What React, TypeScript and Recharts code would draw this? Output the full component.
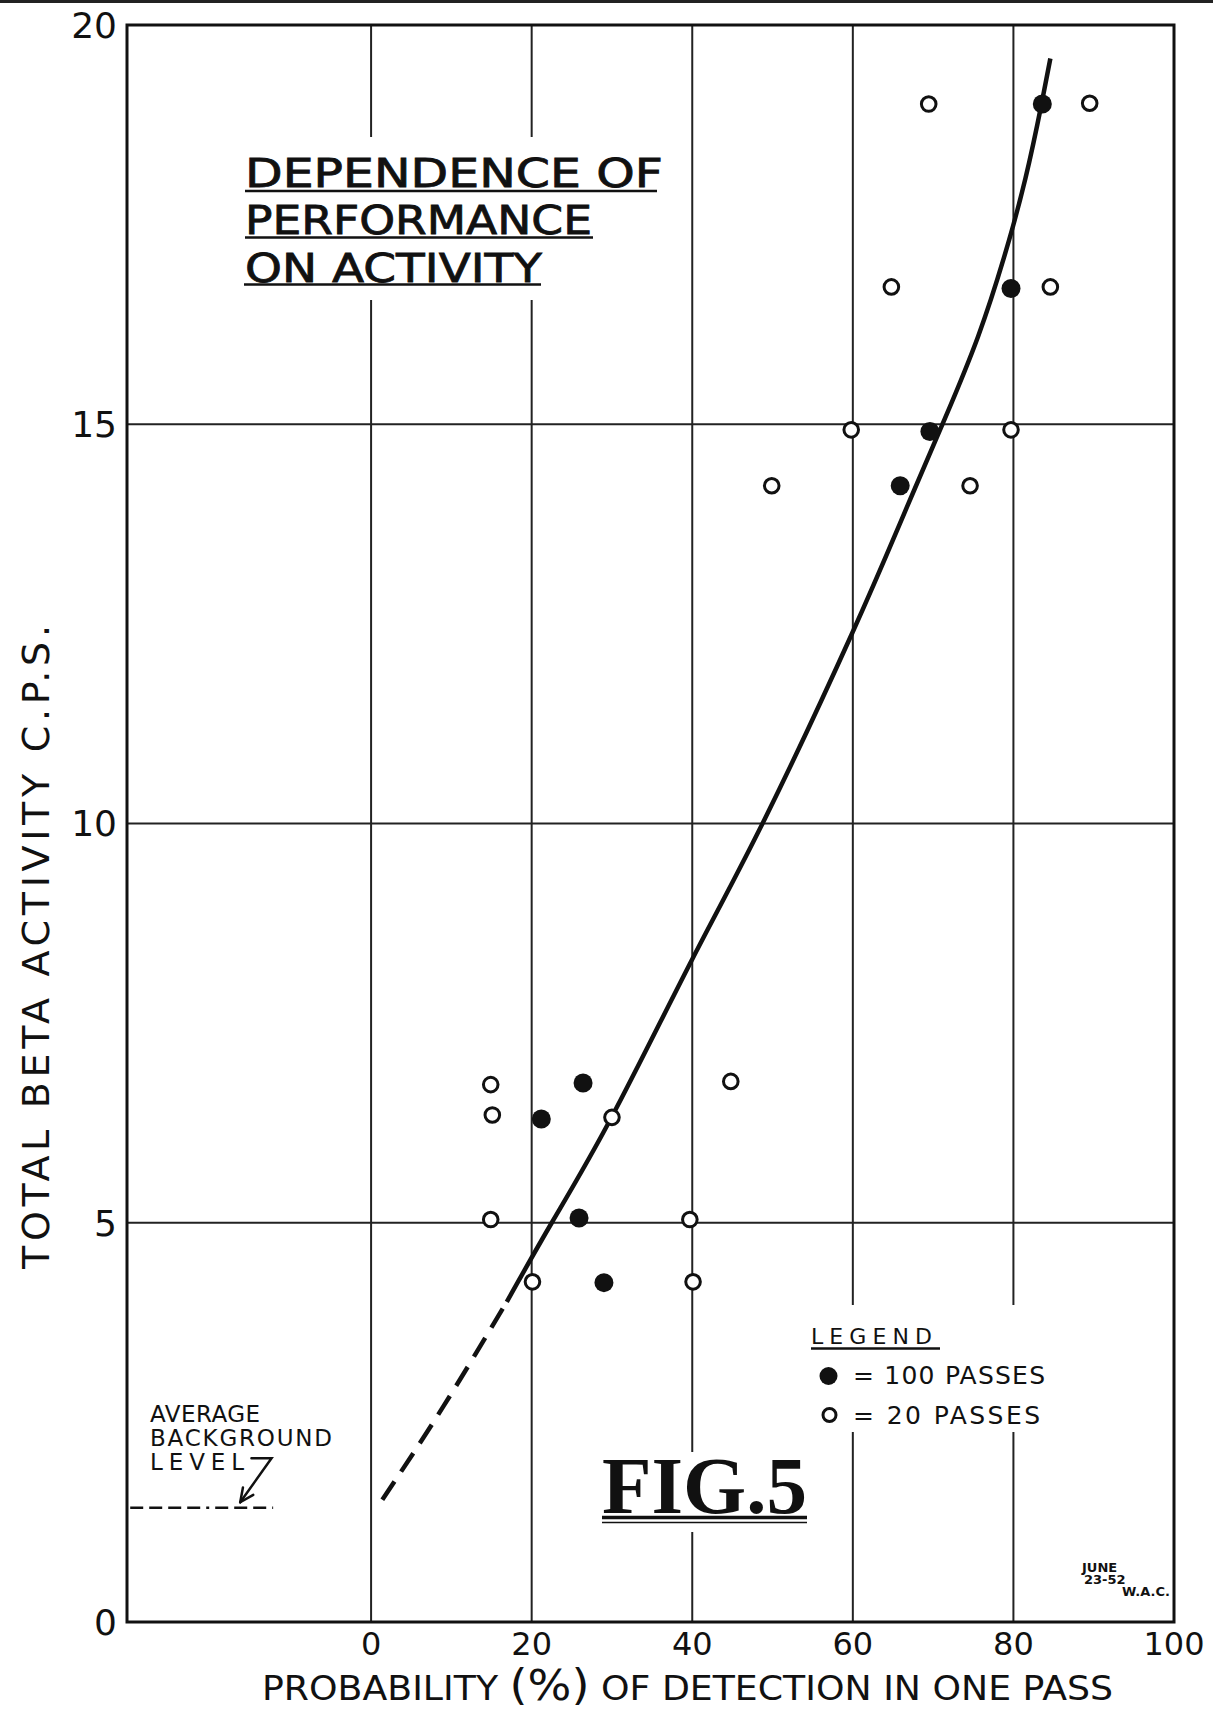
import React from 'react';
import { ComposedChart, Line, Scatter, XAxis, YAxis, CartesianGrid } from 'recharts';

const W = 1213;
const H = 1710;
const PLOT = { left: 127, top: 25, right: 1174, bottom: 1622 };
const X_DOMAIN: [number, number] = [-30.4, 100];
const Y_DOMAIN: [number, number] = [0, 20];
const xTicks = [0, 20, 40, 60, 80, 100];
const yTicks = [0, 5, 10, 15, 20];

// ● = 100 passes
const passes100 = [
  { x: 83.6, y: 19.01 },
  { x: 79.7, y: 16.7 },
  { x: 69.6, y: 14.91 },
  { x: 65.9, y: 14.23 },
  { x: 21.2, y: 6.3 },
  { x: 26.4, y: 6.75 },
  { x: 25.9, y: 5.06 },
  { x: 29.0, y: 4.25 },
];

// ○ = 20 passes
const passes20 = [
  { x: 69.45, y: 19.01 },
  { x: 89.5, y: 19.02 },
  { x: 64.8, y: 16.72 },
  { x: 84.6, y: 16.72 },
  { x: 59.8, y: 14.93 },
  { x: 79.7, y: 14.93 },
  { x: 49.9, y: 14.23 },
  { x: 74.6, y: 14.23 },
  { x: 14.9, y: 6.73 },
  { x: 44.8, y: 6.77 },
  { x: 15.1, y: 6.35 },
  { x: 30.0, y: 6.32 },
  { x: 14.9, y: 5.04 },
  { x: 39.7, y: 5.04 },
  { x: 20.1, y: 4.26 },
  { x: 40.1, y: 4.26 },
];

// fitted curve (solid part)
const fitSolid = [
  { x: 16.9, y: 4.01 },
  { x: 22.5, y: 5.0 },
  { x: 30.0, y: 6.33 },
  { x: 40.0, y: 8.3 },
  { x: 49.0, y: 10.05 },
  { x: 59.9, y: 12.38 },
  { x: 66.3, y: 13.86 },
  { x: 71.5, y: 15.08 },
  { x: 75.6, y: 16.1 },
  { x: 78.8, y: 17.08 },
  { x: 81.5, y: 18.08 },
  { x: 83.5, y: 19.01 },
  { x: 84.6, y: 19.58 },
];

// extrapolated (dashed) part
const fitDashed = [
  { x: 1.4, y: 1.53 },
  { x: 9.0, y: 2.7 },
  { x: 16.9, y: 4.01 },
];

// average background level
const backgroundLevel = [
  { x: -30.0, y: 1.43 },
  { x: -12.2, y: 1.43 },
];

const SANS = '"DejaVu Sans", "Liberation Sans", sans-serif';
const INK = '#111';

const sx = (v: number) =>
  PLOT.left + ((v - X_DOMAIN[0]) / (X_DOMAIN[1] - X_DOMAIN[0])) * (PLOT.right - PLOT.left);
const sy = (v: number) =>
  PLOT.bottom - ((v - Y_DOMAIN[0]) / (Y_DOMAIN[1] - Y_DOMAIN[0])) * (PLOT.bottom - PLOT.top);

const OpenDot = (props: any) => {
  const { cx, cy } = props;
  if (cx == null || cy == null) return null;
  return <circle cx={cx} cy={cy} r={7.3} fill="#fff" stroke={INK} strokeWidth={3} />;
};
const FilledDot = (props: any) => {
  const { cx, cy } = props;
  if (cx == null || cy == null) return null;
  return <circle cx={cx} cy={cy} r={9.5} fill={INK} />;
};

const Overlay = () => {
  // arrow from "LEVEL" to the background line
  const hookA = { x: sx(-14.9), y: sy(2.05) };
  const hookB = { x: sx(-12.4), y: sy(2.05) };
  const tip = { x: sx(-16.3), y: sy(1.5) };
  const dx = hookB.x - tip.x;
  const dy = hookB.y - tip.y;
  const len = Math.sqrt(dx * dx + dy * dy);
  const ux = dx / len;
  const uy = dy / len;
  const ang = (25 * Math.PI) / 180;
  const bl = 15;
  const b1 = {
    x: tip.x + bl * (ux * Math.cos(ang) - uy * Math.sin(ang)),
    y: tip.y + bl * (ux * Math.sin(ang) + uy * Math.cos(ang)),
  };
  const b2 = {
    x: tip.x + bl * (ux * Math.cos(-ang) - uy * Math.sin(-ang)),
    y: tip.y + bl * (ux * Math.sin(-ang) + uy * Math.cos(-ang)),
  };

  return (
    <svg
      width={W}
      height={H}
      style={{ position: 'absolute', left: 0, top: 0, pointerEvents: 'none' }}
    >
      {/* scan edge at top */}
      <line x1={0} y1={1.5} x2={W} y2={1.5} stroke="#222" strokeWidth={3} />

      {/* gaps in grid behind lettering */}
      <rect x={236} y={137} width={436} height={163} fill="#fff" />
      <rect x={800} y={1305} width={260} height={127} fill="#fff" />
      <rect x={598} y={1452} width={214} height={80} fill="#fff" />

      {/* frame */}
      <rect
        x={PLOT.left}
        y={PLOT.top}
        width={PLOT.right - PLOT.left}
        height={PLOT.bottom - PLOT.top}
        fill="none"
        stroke={INK}
        strokeWidth={3}
      />

      {/* title */}
      <g fontFamily={SANS} fontSize={39.5} fill={INK} stroke={INK} strokeWidth={0.8}>
        <text x={245} y={187} textLength={418} lengthAdjust="spacingAndGlyphs">DEPENDENCE OF</text>
        <text x={245} y={233.5} textLength={347} lengthAdjust="spacingAndGlyphs">PERFORMANCE</text>
        <text x={245} y={281.5} textLength={297} lengthAdjust="spacingAndGlyphs">ON ACTIVITY</text>
      </g>
      <g stroke={INK} strokeWidth={2.5}>
        <line x1={245} y1={191} x2={657} y2={191} />
        <line x1={245} y1={237.5} x2={593} y2={237.5} />
        <line x1={244} y1={284.5} x2={541} y2={284.5} />
      </g>

      {/* legend */}
      <g fontFamily={SANS} fill={INK}>
        <text x={811} y={1343.5} fontSize={22} textLength={121} lengthAdjust="spacing">LEGEND</text>
        <line x1={811} y1={1348.5} x2={940} y2={1348.5} stroke={INK} strokeWidth={2.5} />
        <circle cx={828.5} cy={1376} r={9} fill={INK} />
        <text x={853} y={1384} fontSize={25} textLength={192} lengthAdjust="spacing">= 100 PASSES</text>
        <circle cx={829.5} cy={1415} r={6.5} fill="none" stroke={INK} strokeWidth={3} />
        <text x={853} y={1424} fontSize={25} textLength={187} lengthAdjust="spacing">= 20 PASSES</text>
      </g>

      {/* FIG. 5 */}
      <text
        x={602}
        y={1513}
        fontFamily={'"Liberation Serif", "DejaVu Serif", serif'}
        fontWeight="bold"
        fontSize={80}
        fill={INK}
        textLength={205}
        lengthAdjust="spacingAndGlyphs"
      >
        FIG.5
      </text>
      <line x1={602} y1={1517.5} x2={807} y2={1517.5} stroke={INK} strokeWidth={3.5} />
      <line x1={602} y1={1522.5} x2={807} y2={1522.5} stroke={INK} strokeWidth={1.5} />

      {/* average background level */}
      <text fontFamily={SANS} fontSize={23} fill={INK}>
        <tspan x={150} y={1421.5} textLength={110} lengthAdjust="spacing">AVERAGE</tspan>
        <tspan x={150} y={1446} textLength={182} lengthAdjust="spacing">BACKGROUND</tspan>
        <tspan x={150} y={1470} textLength={94} lengthAdjust="spacing">LEVEL</tspan>
      </text>
      <g stroke={INK} strokeWidth={2.5} fill="none" strokeLinecap="round">
        <polyline points={`${hookA.x},${hookA.y} ${hookB.x},${hookB.y} ${tip.x},${tip.y}`} />
        <line x1={tip.x} y1={tip.y} x2={b1.x} y2={b1.y} />
        <line x1={tip.x} y1={tip.y} x2={b2.x} y2={b2.y} />
      </g>

      {/* signature */}
      <text fontFamily={SANS} fontSize={13} fontWeight="bold" fill={INK}>
        <tspan x={1082} y={1572}>JUNE</tspan>
        <tspan x={1084} y={1584}>23-52</tspan>
        <tspan x={1122} y={1596}>W.A.C.</tspan>
      </text>

      {/* axis titles */}
      <text
        x={36}
        y={947}
        transform="rotate(-90 36 947)"
        textAnchor="middle"
        dominantBaseline="central"
        fontFamily={SANS}
        fontSize={38}
        fill={INK}
        textLength={644}
        lengthAdjust="spacing"
      >
        TOTAL BETA ACTIVITY  C.P.S.
      </text>
      <text
        x={262}
        y={1700}
        fontFamily={SANS}
        fontSize={33}
        fill={INK}
        textLength={851}
        lengthAdjust="spacingAndGlyphs"
      >
        PROBABILITY <tspan fontSize={42}>(%)</tspan> OF DETECTION IN ONE PASS
      </text>
    </svg>
  );
};

export default function App() {
  const yAxisWidth = 70;
  const xAxisHeight = 50;
  return (
    <div
      style={{
        position: 'absolute',
        left: 0,
        top: 0,
        width: W,
        height: H,
        background: '#fff',
        overflow: 'hidden',
      }}
    >
      <ComposedChart
        width={W}
        height={H}
        margin={{
          top: PLOT.top,
          right: W - PLOT.right,
          left: PLOT.left - yAxisWidth,
          bottom: H - PLOT.bottom - xAxisHeight,
        }}
      >
        <CartesianGrid stroke="#222" strokeWidth={2} />
        <XAxis
          type="number"
          dataKey="x"
          domain={X_DOMAIN}
          ticks={xTicks}
          allowDataOverflow
          height={xAxisHeight}
          axisLine={false}
          tickLine={false}
          tickSize={0}
          tickMargin={10}
          interval={0}
          tick={{ fontSize: 32, fill: INK, fontFamily: SANS }}
        />
        <YAxis
          type="number"
          dataKey="y"
          domain={Y_DOMAIN}
          ticks={yTicks}
          allowDataOverflow
          width={yAxisWidth}
          axisLine={false}
          tickLine={false}
          tickSize={0}
          tickMargin={10}
          interval={0}
          tick={{ fontSize: 36, fill: INK, fontFamily: SANS }}
        />
        <Line
          data={backgroundLevel}
          dataKey="y"
          type="linear"
          stroke={INK}
          strokeWidth={2.5}
          strokeDasharray="13 6 13 6 13 6 13 6 3 6 13 6 13 6"
          dot={false}
          activeDot={false}
          isAnimationActive={false}
        />
        <Line
          data={fitDashed}
          dataKey="y"
          type="natural"
          stroke={INK}
          strokeWidth={4.5}
          strokeDasharray="22 12"
          dot={false}
          activeDot={false}
          isAnimationActive={false}
        />
        <Line
          data={fitSolid}
          dataKey="y"
          type="natural"
          stroke={INK}
          strokeWidth={4.5}
          dot={false}
          activeDot={false}
          isAnimationActive={false}
        />
        <Scatter data={passes20} dataKey="y" shape={<OpenDot />} isAnimationActive={false} />
        <Scatter data={passes100} dataKey="y" shape={<FilledDot />} isAnimationActive={false} />
      </ComposedChart>
      <Overlay />
    </div>
  );
}
